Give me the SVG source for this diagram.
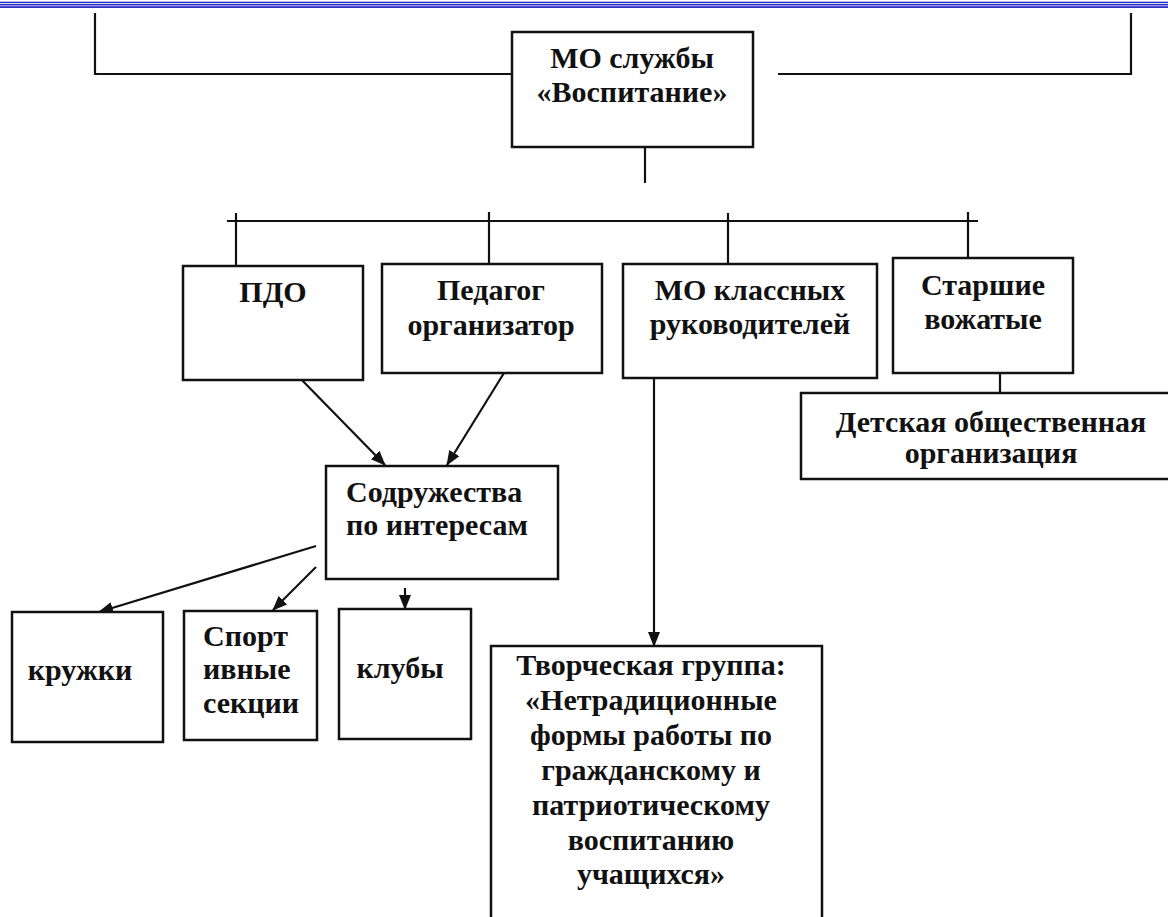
<svg xmlns="http://www.w3.org/2000/svg" width="1168" height="917" viewBox="0 0 1168 917">
<style>
.box{fill:#fff;stroke:#111;stroke-width:2.5}
.ln{stroke:#111;stroke-width:2.2;fill:none}
.t{font-family:"Liberation Serif","Times New Roman",serif;font-weight:bold;font-size:30px;fill:#111}
.c{text-anchor:middle}
.band{fill:#2d2dc8}
</style>
<defs>
<marker id="ah" markerUnits="userSpaceOnUse" markerWidth="15" markerHeight="12" refX="14" refY="6" orient="auto">
<path d="M0,0 L15,6 L0,12 z" fill="#111"/>
</marker>
</defs>
<rect width="1168" height="917" fill="#fff"/>
<g id="border">
<rect class="band" x="0" y="1.7" width="1168" height="1.5"/>
<rect class="band" x="0" y="4" width="1168" height="1.5"/>
<rect class="band" x="0" y="6.2" width="1168" height="1.8"/>
</g>
<g id="connectors">
<polyline class="ln" points="95,13 95,74 512,74"/>
<polyline class="ln" points="778,74 1131,74 1131,13"/>
<line class="ln" x1="645" y1="140" x2="645" y2="183"/>
<line class="ln" x1="227" y1="221" x2="978" y2="221"/>
<line class="ln" x1="236" y1="213" x2="236" y2="266"/>
<line class="ln" x1="489" y1="212" x2="489" y2="264"/>
<line class="ln" x1="728" y1="213" x2="728" y2="264"/>
<line class="ln" x1="968" y1="212" x2="968" y2="258"/>
<line class="ln" x1="1000" y1="373" x2="1000" y2="393"/>
<line class="ln" x1="296" y1="374" x2="385" y2="465" marker-end="url(#ah)"/>
<line class="ln" x1="504" y1="373" x2="447" y2="465" marker-end="url(#ah)"/>
<line class="ln" x1="316" y1="546" x2="99" y2="612" marker-end="url(#ah)"/>
<line class="ln" x1="316" y1="567" x2="273" y2="610" marker-end="url(#ah)"/>
<line class="ln" x1="405" y1="588" x2="405" y2="609" marker-end="url(#ah)"/>
<line class="ln" x1="654" y1="374" x2="654" y2="646" marker-end="url(#ah)"/>
</g>
<g id="n-main">
<rect class="box" x="512" y="32" width="241" height="115"/>
<text class="t c" x="632" y="68">МО службы</text>
<text class="t c" x="632" y="102">«Воспитание»</text>
</g>
<g id="n-pdo">
<rect class="box" x="183" y="266" width="180" height="114"/>
<text class="t c" x="273" y="302">ПДО</text>
</g>
<g id="n-ped">
<rect class="box" x="382" y="264" width="220" height="109"/>
<text class="t c" x="491" y="300">Педагог</text>
<text class="t c" x="491" y="335">организатор</text>
</g>
<g id="n-mo">
<rect class="box" x="623" y="264" width="254" height="114"/>
<text class="t c" x="750" y="300">МО классных</text>
<text class="t c" x="750" y="334">руководителей</text>
</g>
<g id="n-star">
<rect class="box" x="893" y="258" width="180" height="115"/>
<text class="t c" x="983" y="295">Старшие</text>
<text class="t c" x="983" y="329">вожатые</text>
</g>
<g id="n-det">
<rect class="box" x="801" y="393" width="390" height="86"/>
<text class="t c" x="991" y="432">Детская общественная</text>
<text class="t c" x="991" y="463">организация</text>
</g>
<g id="n-sodr">
<rect class="box" x="326" y="466" width="232" height="113"/>
<text class="t" x="346" y="502">Содружества</text>
<text class="t" x="346" y="535">по интересам</text>
</g>
<g id="n-kruzh">
<rect class="box" x="12" y="612" width="151" height="130"/>
<text class="t c" x="80" y="680">кружки</text>
</g>
<g id="n-sport">
<rect class="box" x="184" y="611" width="133" height="129"/>
<text class="t" x="203" y="646">Спорт</text>
<text class="t" x="203" y="679">ивные</text>
<text class="t" x="203" y="713">секции</text>
</g>
<g id="n-klub">
<rect class="box" x="339" y="609" width="132" height="130"/>
<text class="t c" x="400" y="678">клубы</text>
</g>
<g id="n-tvor">
<rect class="box" x="491" y="646" width="331" height="290"/>
<text class="t c" x="651" y="675">Творческая группа:</text>
<text class="t c" x="651" y="710">«Нетрадиционные</text>
<text class="t c" x="651" y="745">формы работы по</text>
<text class="t c" x="651" y="780">гражданскому и</text>
<text class="t c" x="651" y="815">патриотическому</text>
<text class="t c" x="651" y="850">воспитанию</text>
<text class="t c" x="651" y="884">учащихся»</text>
</g>
</svg>
